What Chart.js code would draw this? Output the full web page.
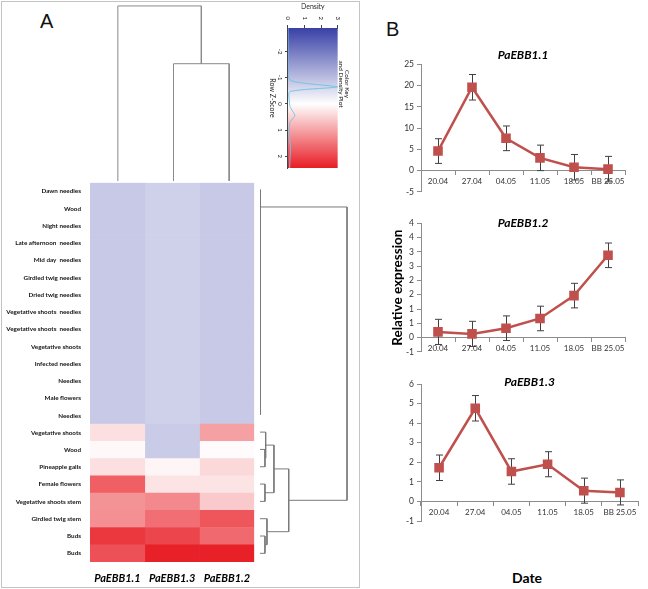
<!DOCTYPE html>
<html lang="en">
<head>
  <meta charset="UTF-8" />
  <title>PaEBB1 expression - heatmap and time course</title>
  <script src="https://cdn.jsdelivr.net/npm/chart.js"></script>
  <style>
    body { margin: 0; background: #fff; width: 648px; height: 589px; position: relative; overflow: hidden; }
    canvas { position: absolute; }
    .panel { position: absolute; left: 1px; top: 1px; width: 357px; height: 585px; border: 1px solid #c4c4c4; }
    .tag { position: absolute; font: 20px "Liberation Sans", Arial, sans-serif; line-height: 20px; color: #111; }
    .axisLabel { position: absolute; font: bold 14px Lato, sans-serif; line-height: 16px; color: #000; text-align: center; }
    #keyBox { position: absolute; left: 350px; top: 0; width: 172px; height: 88px; transform: rotate(90deg); transform-origin: 0 0; }
  </style>
</head>
<body>
  <div class="panel"></div>
  <div class="tag" style="left:40px; top:11px;">A</div>
  <div class="tag" style="left:386px; top:19px;">B</div>

  <canvas id="colTree" width="167" height="181" style="left:90px; top:0;"></canvas>
  <canvas id="heatmap" width="260" height="419" style="left:0; top:170px;"></canvas>
  <canvas id="rowTree" width="92" height="381" style="left:260px; top:181px;"></canvas>
  <div id="keyBox"><canvas id="keyChart" width="172" height="88" style="left:0; top:0;"></canvas></div>

  <canvas id="ebb11" width="268" height="160" style="left:380px; top:40px;"></canvas>
  <canvas id="ebb12" width="268" height="160" style="left:380px; top:200px;"></canvas>
  <canvas id="ebb13" width="268" height="170" style="left:380px; top:360px;"></canvas>
  <div class="axisLabel" style="left:497px; top:570px; width:60px;">Date</div>

  <script>
    // ---- panel A: row z-scores ----
    const columnNames = ['PaEBB1.1', 'PaEBB1.3', 'PaEBB1.2'];
    const rowNames = ['Dawn needles', 'Wood', 'Night needles', 'Late afternoon  needles', 'Mid day  needles',
      'Girdled twig needles', 'Dried twig needles', 'Vegetative shoots  needles', 'Vegetative shoots  needles',
      'Vegetative shoots', 'Infected needles', 'Needles', 'Male flowers', 'Needles', 'Vegetative shoots', 'Wood',
      'Pineapple galls', 'Female flowers', 'Vegetative shoots stem', 'Girdled twig stem', 'Buds', 'Buds'];
    const zPaEBB11 = [-0.82, -0.82, -0.82, -0.82, -0.82, -0.82, -0.82, -0.82, -0.82, -0.82, -0.82, -0.82, -0.82, -0.82,
      0.34, 0.08, 0.34, 1.73, 1.17, 1.21, 2.15, 1.88];
    const zPaEBB13 = [-0.70, -0.70, -0.70, -0.70, -0.70, -0.70, -0.70, -0.70, -0.70, -0.70, -0.70, -0.70, -0.70, -0.70,
      -0.79, -0.79, 0.10, 0.29, 1.27, 1.56, 2.01, 2.41];
    const zPaEBB12 = [-0.82, -0.82, -0.82, -0.82, -0.82, -0.82, -0.82, -0.82, -0.82, -0.82, -0.82, -0.82, -0.82, -0.82,
      1.03, 0.05, 0.42, 0.29, 0.58, 1.82, 1.62, 2.41];

    // dendrograms, hclust style: negative = leaf (1-based), positive = earlier merge
    const colMergeA = [-2, -1];
    const colMergeB = [-3, 1];
    const colMergeH = [6.7, 10];
    const rowMergeA = [-13, -12, -11, -10, -9, -8, -7, -6, -5, -4, -3, -2, -1, -16, -15, -18, 15, -21, -20, 17, 13];
    const rowMergeB = [-14, 1, 2, 3, 4, 5, 6, 7, 8, 9, 10, 11, 12, -17, 14, -19, 16, -22, 18, 19, 20];
    const rowMergeH = [0.05, 0.05, 0.05, 0.05, 0.05, 0.05, 0.05, 0.05, 0.05, 0.05, 0.05, 0.05, 0.05,
      0.57, 0.65, 0.57, 1.6, 0.57, 0.8, 3.3, 10];

    // colour key + density
    const keyMin = -2.9, keyMax = 2.45;
    const zTicks = [-2, -1, 0, 1, 2];
    const densityZ = [-2.9, -1.2, -0.98, -0.86, -0.76, -0.68, -0.65, -0.61, -0.55, -0.48, -0.4, -0.1, 0.1, 0.3, 0.45, 0.55, 0.7, 0.9, 1.3, 1.7, 2.1, 2.45];
    const densityValue = [0, 0, 0.05, 0.3, 1.4, 2.7, 3.0, 2.4, 1.0, 0.15, 0.05, 0.08, 0.12, 0.3, 0.42, 0.3, 0.12, 0.08, 0.1, 0.15, 0.12, 0.1];

    // ---- panel B: relative expression ----
    const dates = ['20.04', '27.04', '04.05', '11.05', '18.05', 'BB 25.05'];
    const ebb11 = [4.6, 19.6, 7.6, 3.0, 0.8, 0.35];
    const ebb11Err = [2.9, 3.0, 2.9, 3.0, 3.0, 3.0];
    const ebb12 = [0.2, 0.13, 0.33, 0.67, 1.47, 2.88];
    const ebb12Err = [0.44, 0.44, 0.43, 0.43, 0.43, 0.43];
    const ebb13 = [1.72, 4.76, 1.53, 1.9, 0.55, 0.46];
    const ebb13Err = [0.65, 0.65, 0.65, 0.64, 0.64, 0.64];

    Chart.defaults.font.family = 'Lato';
    Chart.defaults.color = '#333';

    const blueEnd = [56, 64, 166], redEnd = [232, 28, 36];
    function zColor(z) {
      const end = z < 0 ? blueEnd : redEnd;
      const t = Math.min(1, z < 0 ? -z / -keyMin : z / keyMax);
      const c = end.map(v => Math.round(255 + (v - 255) * t));
      return `rgb(${c[0]},${c[1]},${c[2]})`;
    }

    function dendroSegments(mA, mB, mH) {
      const pos = [], hgt = [];
      const at = id => id < 0 ? [-id - 0.5, 0] : [pos[id - 1], hgt[id - 1]];
      return mA.map((a, i) => {
        const [pa, ha] = at(a), [pb, hb] = at(mB[i]);
        pos[i] = (pa + pb) / 2;
        hgt[i] = mH[i];
        return [[pa, ha], [pa, mH[i]], [pb, mH[i]], [pb, hb]];
      });
    }

    const noUi = { legend: { display: false }, tooltip: { enabled: false } };

    // top dendrogram (columns)
    new Chart(document.getElementById('colTree'), {
      type: 'scatter',
      data: {
        datasets: dendroSegments(colMergeA, colMergeB, colMergeH).map(seg => ({
          data: seg.map(p => ({ x: p[0], y: p[1] })),
          showLine: true, pointRadius: 0, borderWidth: 1, borderColor: '#8a8a8a', clip: false
        }))
      },
      options: {
        responsive: false, animation: false, events: [],
        plugins: noUi,
        scales: { x: { display: false, min: 0, max: 3 }, y: { display: false, min: 0, max: 10.34 } }
      }
    });

    // heatmap: one stacked bar per column, one cell per row
    new Chart(document.getElementById('heatmap'), {
      type: 'bar',
      data: {
        labels: rowNames,
        datasets: [zPaEBB11, zPaEBB13, zPaEBB12].map(z => ({
          data: z.map(() => 1),
          backgroundColor: z.map(zColor),
          borderWidth: 0, barPercentage: 1, categoryPercentage: 1
        }))
      },
      options: {
        indexAxis: 'y', responsive: false, animation: false, events: [],
        layout: { padding: { top: 11, right: 3 } },
        plugins: noUi,
        scales: {
          x: {
            stacked: true, min: 0, max: 3,
            afterBuildTicks: s => { s.ticks = [0.5, 1.5, 2.5].map(v => ({ value: v })); },
            afterFit: s => { s.height = 27; },
            grid: { display: false, drawTicks: false }, border: { display: false },
            ticks: { callback: (v, i) => columnNames[i], padding: 9.4, color: '#000',
              font: { size: 11, weight: 'bold', style: 'italic' } }
          },
          y: {
            stacked: true,
            afterFit: s => { s.width = 90; },
            grid: { display: false, drawTicks: false }, border: { display: false },
            ticks: { autoSkip: false, padding: 9, color: '#111', font: { size: 6.3, weight: 'bold' } }
          }
        }
      }
    });

    // right dendrogram (rows)
    new Chart(document.getElementById('rowTree'), {
      type: 'scatter',
      data: {
        datasets: dendroSegments(rowMergeA, rowMergeB, rowMergeH).map(seg => ({
          data: seg.map(p => ({ x: p[1], y: p[0] })),
          showLine: true, pointRadius: 0, borderWidth: 1, borderColor: '#7a7a7a', clip: false
        }))
      },
      options: {
        responsive: false, animation: false, events: [],
        plugins: noUi,
        scales: { x: { display: false, min: 0, max: 10.57 }, y: { display: false, min: 0, max: 22, reverse: true } }
      }
    });

    // colour key, drawn upright then turned 90 degrees by CSS
    const keyGradient = {
      id: 'keyGradient',
      beforeDatasetsDraw(chart) {
        const { ctx, chartArea: a, scales: { x } } = chart;
        const g = ctx.createLinearGradient(a.left, 0, a.right, 0);
        [keyMin, 0, keyMax].forEach(z => g.addColorStop((x.getPixelForValue(z) - a.left) / a.width, zColor(z)));
        ctx.save();
        ctx.fillStyle = g;
        ctx.fillRect(a.left, a.top, a.width, a.height);
        ctx.restore();
      }
    };

    new Chart(document.getElementById('keyChart'), {
      type: 'scatter',
      data: {
        datasets: [{
          data: densityZ.map((z, i) => ({ x: z, y: densityValue[i] })),
          showLine: true, pointRadius: 0, borderWidth: 1, borderColor: '#72c4e4', tension: 0.2
        }]
      },
      options: {
        responsive: false, animation: false, events: [],
        layout: { padding: { right: 4 } },
        plugins: {
          ...noUi,
          title: { display: true, text: ['Color Key', 'and Density Plot'], padding: 0, color: '#222',
            font: { size: 6.5, weight: 'normal', lineHeight: 0.95 } }
        },
        scales: {
          x: {
            type: 'linear', min: keyMin, max: keyMax,
            afterBuildTicks: s => { s.ticks = zTicks.map(v => ({ value: v })); },
            afterFit: s => { s.height = 26; },
            grid: { drawOnChartArea: false, tickLength: 3, color: '#444' }, border: { color: '#444' },
            ticks: { font: { size: 6 }, padding: 1, maxRotation: 0, color: '#222' },
            title: { display: true, text: 'Row Z-Score', padding: { top: 0, bottom: 6 }, color: '#222', font: { size: 7 } }
          },
          y: {
            min: 0, max: 3,
            afterFit: s => { s.width = 28; },
            grid: { drawOnChartArea: false, tickLength: 3, color: '#444' }, border: { color: '#444' },
            ticks: { stepSize: 1, font: { size: 6 }, padding: 5, color: '#222' },
            title: { display: true, text: 'Density', padding: { top: 3, bottom: 0 }, color: '#222', font: { size: 7 } }
          }
        }
      },
      plugins: [keyGradient]
    });

    // error bars from each dataset's "errors" list
    const errorBars = {
      id: 'errorBars',
      beforeDatasetsDraw(chart) {
        const { ctx, scales: { x, y } } = chart;
        chart.data.datasets.forEach(ds => {
          if (!ds.errors) return;
          ctx.save();
          ctx.strokeStyle = '#404040';
          ctx.lineWidth = 1;
          ds.data.forEach((v, i) => {
            const px = Math.round(x.getPixelForValue(i)) + 0.5;
            const top = y.getPixelForValue(v + ds.errors[i]);
            const bot = y.getPixelForValue(v - ds.errors[i]);
            ctx.beginPath();
            ctx.moveTo(px, top); ctx.lineTo(px, bot);
            ctx.moveTo(px - 3.5, top); ctx.lineTo(px + 3.5, top);
            ctx.moveTo(px - 3.5, bot); ctx.lineTo(px + 3.5, bot);
            ctx.stroke();
          });
          ctx.restore();
        });
      }
    };

    function trendChart(id, title, values, errors, yMin, yMax, yStep, titlePad, pad, tickFormat, yTitle) {
      return new Chart(document.getElementById(id), {
        type: 'line',
        data: {
          labels: dates,
          datasets: [{
            data: values, errors: errors,
            borderColor: '#c0504d', backgroundColor: '#c0504d', borderWidth: 2.5,
            pointStyle: 'rect', pointRadius: 5, tension: 0
          }]
        },
        options: {
          responsive: false, animation: false, events: [],
          layout: { padding: pad },
          plugins: {
            ...noUi,
            title: { display: true, text: title, fullSize: false, padding: titlePad, color: '#000',
              font: { size: 12, weight: 'bold', style: 'italic', lineHeight: 1.2 } }
          },
          scales: {
            x: {
              type: 'category', offset: true, position: { y: 0 },
              grid: { drawOnChartArea: false, offset: true, tickLength: 4, color: '#8c8c8c' },
              border: { color: '#8c8c8c' },
              ticks: { font: { size: 8 }, padding: 2, autoSkip: false, maxRotation: 0, color: '#333' }
            },
            y: {
              min: yMin, max: yMax,
              afterFit: s => { s.width = 41; },
              grid: { drawOnChartArea: false, tickLength: 4, color: '#8c8c8c' },
              border: { color: '#8c8c8c' },
              ticks: { stepSize: yStep, font: { size: 8.5 }, padding: 3, color: '#333', callback: tickFormat },
              title: yTitle || { display: false }
            }
          }
        },
        plugins: [errorBars]
      });
    }

    const plainTick = v => v;
    // Excel shows 0.5 steps with no decimals, rounding half away from zero
    const roundedTick = v => Math.sign(v) * Math.round(Math.abs(v));

    trendChart('ebb11', 'PaEBB1.1', ebb11, ebb11Err, -5, 25, 5,
      { top: 7.8, bottom: 2.1 }, { right: 23, bottom: 6.7 }, plainTick);
    trendChart('ebb12', 'PaEBB1.2', ebb12, ebb12Err, -0.5, 4, 0.5,
      { top: 15.8, bottom: -6.9 }, { right: 23, bottom: 6.7 }, roundedTick,
      { display: true, text: 'Relative expression', color: '#000', padding: { top: 10, bottom: 0 },
        font: { size: 13.5, weight: 'bold' } });
    trendChart('ebb13', 'PaEBB1.3', ebb13, ebb13Err, -1, 6, 1,
      { top: 14.8, bottom: -5.2 }, { right: 10, bottom: 9 }, plainTick);
  </script>
</body>
</html>
